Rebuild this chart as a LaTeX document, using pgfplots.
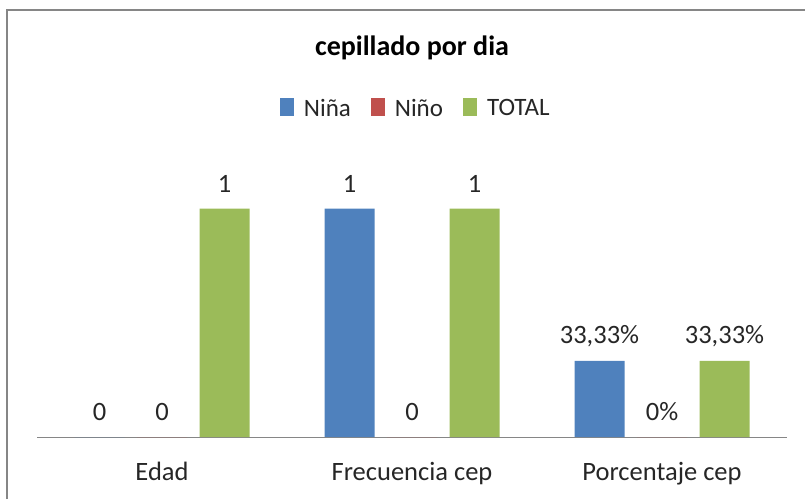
\documentclass[border=0pt]{standalone}
\usepackage{fontspec}
\setmainfont{Carlito}
\usepackage{pgfplots}
\pgfplotsset{compat=1.18}

\definecolor{cblue}{HTML}{4F81BD}
\definecolor{cred}{HTML}{C0504D}
\definecolor{cgreen}{HTML}{9BBB59}
\definecolor{axisgray}{HTML}{868686}
\definecolor{txt}{HTML}{262626}

\newcommand{\lbl}{\fontsize{26.5}{31}\selectfont}
\newcommand{\lgd}{\fontsize{25}{30}\selectfont}

\begin{document}
\begin{tikzpicture}
\path[use as bounding box] (0,0) rectangle (805pt,499pt);
\draw[axisgray, line width=2pt] (7pt,0) -- (7pt,489pt) -- (806pt,489pt);

\begin{axis}[
    at={(37pt,62pt)}, anchor=south west,
    scale only axis,
    width=750pt, height=274pt,
    xmin=-0.5, xmax=2.5,
    ymin=0, ymax=1.2,
    axis x line=bottom,
    axis y line=none,
    axis line style={axisgray, line width=1pt, -},
    xtick={0,1,2},
    xticklabels={Edad,Frecuencia cep,Porcentaje cep},
    major tick length=0pt,
    xticklabel style={font=\lbl, text=txt, anchor=base, yshift=-43pt},
    ybar, bar width=50pt,
    point meta=explicit symbolic,
    nodes near coords={\pgfplotspointmeta},
    nodes near coords style={font=\lbl, text=txt, anchor=center, yshift=25pt},
    title={\textbf{cepillado por dia}},
    title style={font=\fontsize{28}{33}\selectfont, text=black, at={(0.5,1.40)}, anchor=center},
    legend columns=3,
    legend style={at={(0.505,1.2)}, anchor=center, draw=none, font=\lgd, text=txt,
        /tikz/every odd column/.append style={column sep=8pt},
        /tikz/every even column/.append style={column sep=18pt}},
    legend image code/.code={\fill[#1] (0pt,-8pt) rectangle (14pt,10pt);},
]
\addplot[fill=cblue, draw=none, bar shift=-62.5pt]
    coordinates {(0,0) [0] (1,1) [1] (2,0.3333) [33{,}33\%]};
\addlegendentry{Niña}
\addplot[fill=cred, draw=none, bar shift=0pt]
    coordinates {(0,0) [0] (1,0) [0] (2,0) [0\%]};
\addlegendentry{Niño}
\addplot[fill=cgreen, draw=none, bar shift=62.5pt]
    coordinates {(0,1) [1] (1,1) [1] (2,0.3333) [33{,}33\%]};
\addlegendentry{TOTAL}
\end{axis}
\end{tikzpicture}
\end{document}
